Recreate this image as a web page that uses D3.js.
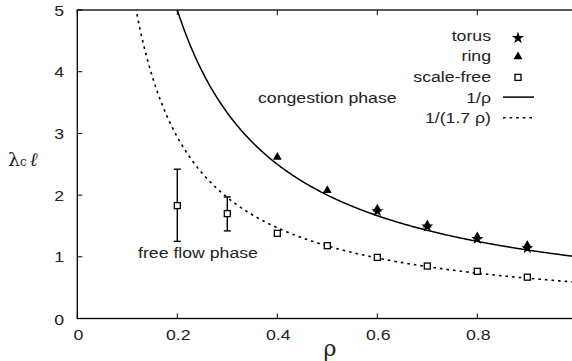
<!DOCTYPE html>
<html>
<head>
<meta charset="utf-8">
<script src="https://cdn.jsdelivr.net/npm/d3@7"></script>
<style>
  body { margin: 0; background: #fff; }
  svg { display: block; }
  text { font-family: "Liberation Sans", Arial, sans-serif; fill: #222; }
</style>
</head>
<body>
<svg id="chart" width="572" height="361"></svg>
<script>
// values
const xTicks = [0, 0.2, 0.4, 0.6, 0.8, 1];
const yTicks = [0, 1, 2, 3, 4, 5];

const torusX = [0.6, 0.7, 0.8, 0.9];
const torusY = [1.74, 1.49, 1.29, 1.14];

const ringX = [0.4, 0.5, 0.6, 0.7, 0.8, 0.9];
const ringY = [2.6, 2.06, 1.76, 1.5, 1.31, 1.17];

const sfX = [0.2, 0.3, 0.4, 0.5, 0.6, 0.7, 0.8, 0.9];
const sfY = [1.83, 1.70, 1.38, 1.18, 0.99, 0.85, 0.765, 0.67];
const sfErrLo = [1.25, 1.42, null, null, null, null, null, null];
const sfErrHi = [2.42, 1.97, null, null, null, null, null, null];

const curveCoef = [1, 1.7];   // 1/ρ and 1/(1.7 ρ)

const legendLabels = ["torus", "ring", "scale-free", "1/ρ", "1/(1.7 ρ)"];

const svg = d3.select("#chart");

const x = d3.scaleLinear().domain([0, 1]).range([77.3, 577.3]);
const y = d3.scaleLinear().domain([0, 5]).range([318.5, 10]);

const sx = 1.18; // the reference glyphs are a bit wider than normal

function stretchedText(g, px, py, str, size, anchor) {
  return g.append("text")
    .attr("transform", `translate(${px},${py}) scale(${sx},1)`)
    .attr("text-anchor", anchor || "start")
    .style("font-size", size + "px")
    .text(str);
}

svg.append("defs").append("clipPath").attr("id", "plot")
  .append("rect")
  .attr("x", x(0)).attr("y", y(5))
  .attr("width", x(1) - x(0)).attr("height", y(0) - y(5));

// frame
svg.append("rect")
  .attr("x", x(0)).attr("y", y(5))
  .attr("width", x(1) - x(0)).attr("height", y(0) - y(5))
  .attr("fill", "none").attr("stroke", "#000").attr("stroke-width", 1.3);

// ticks, drawn inward on all four sides
const tickG = svg.append("g").attr("stroke", "#000").attr("stroke-width", 1);
xTicks.forEach(t => {
  tickG.append("line").attr("x1", x(t)).attr("x2", x(t)).attr("y1", y(0)).attr("y2", y(0) - 5);
  tickG.append("line").attr("x1", x(t)).attr("x2", x(t)).attr("y1", y(5)).attr("y2", y(5) + 5);
});
yTicks.forEach(t => {
  tickG.append("line").attr("x1", x(0)).attr("x2", x(0) + 5).attr("y1", y(t)).attr("y2", y(t));
  tickG.append("line").attr("x1", x(1)).attr("x2", x(1) - 5).attr("y1", y(t)).attr("y2", y(t));
});

const labG = svg.append("g");
xTicks.forEach(t => {
  stretchedText(labG, x(t) + 1, 340, d3.format("")(t), 15, "middle");
});
yTicks.forEach(t => {
  stretchedText(labG, 64, y(t) + 5.5 + (t === 0 ? 1 : 0), String(t), 15, "end");
});

// axis titles
const yl = svg.append("text").attr("x", 8).attr("y", 166).style("font-family", "'DejaVu Serif', serif");
yl.append("tspan").style("font-size", "19px").text("λ");
yl.append("tspan").style("font-size", "12px").text("c");
yl.append("tspan").style("font-size", "19px").style("font-style", "italic").attr("dx", 3).text("ℓ");

svg.append("text").attr("x", 330).attr("y", 356)
  .attr("text-anchor", "middle")
  .style("font-family", "'DejaVu Serif', serif")
  .style("font-size", "22px")
  .text("ρ");

// theoretical curves
const plot = svg.append("g").attr("clip-path", "url(#plot)");
const xs = d3.range(0.1, 1.0001, 0.002);
const line = d3.line().x(d => x(d[0])).y(d => y(d[1]));
curveCoef.forEach((c, i) => {
  plot.append("path")
    .datum(xs.map(v => [v, 1 / (c * v)]))
    .attr("d", line)
    .attr("fill", "none")
    .attr("stroke", "#000")
    .attr("stroke-width", i === 0 ? 1.5 : 1.6)
    .attr("stroke-dasharray", i === 0 ? null : "2.6,4");
});

// error bars
sfX.forEach((v, i) => {
  if (sfErrLo[i] == null) return;
  const g = svg.append("g").attr("stroke", "#000").attr("stroke-width", 1.4);
  g.append("line").attr("x1", x(v)).attr("x2", x(v)).attr("y1", y(sfErrLo[i])).attr("y2", y(sfErrHi[i]));
  g.append("line").attr("x1", x(v) - 3.5).attr("x2", x(v) + 3.5).attr("y1", y(sfErrLo[i])).attr("y2", y(sfErrLo[i]));
  g.append("line").attr("x1", x(v) - 3.5).attr("x2", x(v) + 3.5).attr("y1", y(sfErrHi[i])).attr("y2", y(sfErrHi[i]));
});

const star = d3.symbol().type(d3.symbolStar).size(46);
const tri = d3.symbol().type(d3.symbolTriangle).size(34);

function drawStar(g, px, py) {
  g.append("path").attr("d", star()).attr("transform", `translate(${px},${py})`).attr("fill", "#000");
}
function drawTri(g, px, py) {
  g.append("path").attr("d", tri()).attr("transform", `translate(${px},${py - 1})`).attr("fill", "#000");
}
function drawSquare(g, px, py) {
  g.append("rect").attr("x", px - 3).attr("y", py - 3).attr("width", 6).attr("height", 6)
    .attr("fill", "#fff").attr("stroke", "#000").attr("stroke-width", 1.3);
}

const pts = svg.append("g");
ringX.forEach((v, i) => drawTri(pts, x(v), y(ringY[i])));
torusX.forEach((v, i) => drawStar(pts, x(v), y(torusY[i])));
sfX.forEach((v, i) => drawSquare(pts, x(v), y(sfY[i])));

// region labels
stretchedText(svg, 258, 103, "congestion phase", 15, "start");
stretchedText(svg, 138, 258, "free flow phase", 15, "start");

// legend
const leg = svg.append("g");
const legY0 = 35, legDy = 20.7;
legendLabels.forEach((lab, i) => {
  const ly = legY0 + i * legDy;
  stretchedText(leg, 491, ly + 5.5, lab, 15, "end");
  const sxp = 518;
  if (i === 0) drawStar(leg, sxp, ly + 3);
  else if (i === 1) drawTri(leg, sxp, ly + 2);
  else if (i === 2) drawSquare(leg, sxp, ly + 1);
  else {
    leg.append("line")
      .attr("x1", 503).attr("x2", 534).attr("y1", ly).attr("y2", ly)
      .attr("stroke", "#000").attr("stroke-width", i === 3 ? 1.5 : 1.6)
      .attr("stroke-dasharray", i === 3 ? null : "2.6,4");
  }
});
</script>
</body>
</html>
